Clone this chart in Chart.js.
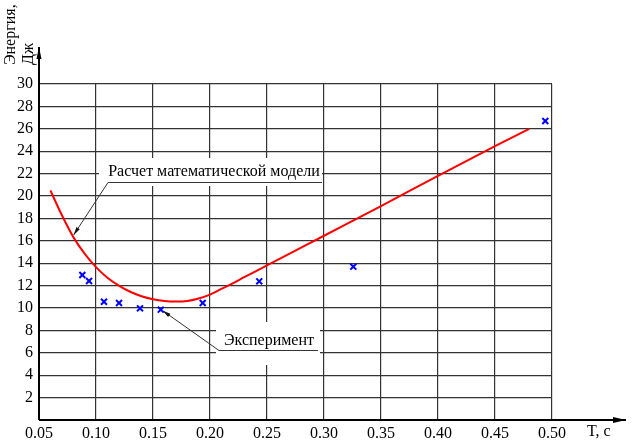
<!DOCTYPE html>
<html>
<head>
<meta charset="utf-8">
<script src="https://cdn.jsdelivr.net/npm/chart.js@4/dist/chart.umd.min.js"></script>
<style>
html,body{margin:0;padding:0;background:#fff;}
#wrap{width:633px;height:442px;position:relative;}
</style>
</head>
<body>
<div id="wrap"><canvas id="c" width="633" height="442"></canvas></div>
<script>
// ---- data ----
const tCalc = [0.060,0.070,0.080,0.090,0.100,0.110,0.120,0.130,0.140,0.150,0.160,0.170,0.180,0.190,0.200,0.210,0.220,0.230,0.240,0.250,0.300,0.350,0.400,0.450,0.480];
const eCalc = [20.5,18.3,16.35,14.85,13.65,12.7,12.0,11.45,11.05,10.78,10.62,10.57,10.62,10.85,11.2,11.7,12.2,12.75,13.28,13.8,16.45,19.1,21.8,24.45,26.0];
const tExp = [0.0880,0.0939,0.1070,0.1202,0.1386,0.1568,0.1936,0.2432,0.3257,0.4941];
const eExp = [12.95,12.41,10.56,10.45,9.97,9.85,10.45,12.38,13.69,26.7];
const xTicks = [0.05,0.10,0.15,0.20,0.25,0.30,0.35,0.40,0.45,0.50];
const yTicks = [2,4,6,8,10,12,14,16,18,20,22,24,26,28,30];
const yTitle1 = 'Энергия,';
const yTitle2 = 'Дж';
const xTitle = 'T, c';
const labelCalc = 'Расчет математической модели';
const labelExp = 'Эксперимент';

const FONT = 'Liberation Serif, Times New Roman, serif';

function arrowLine(ctx, x1, y1, x2, y2, len, half){
  ctx.beginPath(); ctx.moveTo(x1,y1); ctx.lineTo(x2,y2); ctx.stroke();
  const a = Math.atan2(y2-y1, x2-x1);
  ctx.beginPath();
  ctx.moveTo(x2,y2);
  ctx.lineTo(x2 - len*Math.cos(a) + half*Math.sin(a), y2 - len*Math.sin(a) - half*Math.cos(a));
  ctx.lineTo(x2 - len*Math.cos(a) - half*Math.sin(a), y2 - len*Math.sin(a) + half*Math.cos(a));
  ctx.closePath(); ctx.fill();
}

const deco = {
  id: 'deco',
  beforeDatasetsDraw(chart){
    const ctx = chart.ctx, xs = chart.scales.x, ys = chart.scales.y;
    const X = v => xs.getPixelForValue(v), Y = v => ys.getPixelForValue(v);
    ctx.save();
    ctx.fillStyle = '#fff';
    ctx.fillRect(99, 158, 223, 28);
    ctx.fillRect(216, 322, 104, 43);
    ctx.fillStyle = '#000';
    ctx.font = '16px ' + FONT;
    ctx.textBaseline = 'middle';
    ctx.textAlign = 'center';
    ctx.fillText(labelCalc, 214, 172);
    ctx.fillText(labelExp, 269, 341);
    ctx.strokeStyle = '#333'; ctx.fillStyle = '#111'; ctx.lineWidth = 1;
    ctx.beginPath(); ctx.moveTo(108,182.5); ctx.lineTo(322,182.5); ctx.stroke();
    arrowLine(ctx, 108, 182.5, X(0.0800)+0.5, Y(16.35)-2, 8, 2);
    ctx.beginPath(); ctx.moveTo(219,350.5); ctx.lineTo(318,350.5); ctx.stroke();
    arrowLine(ctx, 219, 350.5, X(0.1568)+2, Y(9.85)+1, 8, 2);
    ctx.restore();
  },
  afterDraw(chart){
    const ctx = chart.ctx, a = chart.chartArea;
    ctx.save();
    ctx.strokeStyle = '#000'; ctx.fillStyle = '#000'; ctx.lineWidth = 2;
    arrowLine(ctx, a.left, a.bottom, 626, a.bottom, 13, 3);
    arrowLine(ctx, a.left, a.bottom, a.left, 47, 12, 2.5);
    ctx.font = '16px ' + FONT;
    ctx.textBaseline = 'middle';
    ctx.textAlign = 'left';
    ctx.fillText(xTitle, 587, 432);
    ctx.save();
    ctx.translate(11, 65); ctx.rotate(-Math.PI/2);
    ctx.fillText(yTitle1, 0, 0);
    ctx.restore();
    ctx.save();
    ctx.translate(29, 65); ctx.rotate(-Math.PI/2);
    ctx.fillText(yTitle2, 0, 0);
    ctx.restore();
    ctx.restore();
  }
};

new Chart(document.getElementById('c'), {
  type: 'scatter',
  data: {
    datasets: [
      {
        label: 'calc',
        data: tCalc.map((t,i)=>({x:t, y:eCalc[i]})),
        showLine: true,
        borderColor: '#ff0000',
        borderWidth: 2,
        pointRadius: 0,
        cubicInterpolationMode: 'monotone',
        clip: false,
        order: 2
      },
      {
        label: 'exp',
        data: tExp.map((t,i)=>({x:t, y:eExp[i]})),
        showLine: false,
        pointStyle: 'crossRot',
        pointRadius: 4.2,
        borderColor: '#0000ff',
        borderWidth: 2,
        clip: false,
        order: 1
      }
    ]
  },
  options: {
    responsive: false,
    animation: false,
    devicePixelRatio: 1,
    layout: { padding: { top: 84, right: 81, left: 0, bottom: 0 } },
    plugins: { legend: { display: false }, tooltip: { enabled: false } },
    scales: {
      x: {
        type: 'linear', min: 0.05, max: 0.50,
        afterBuildTicks(s){ s.ticks = xTicks.map(v=>({value:v})); },
        afterFit(s){ s.height = 22; },
        grid: { color: '#333', lineWidth: 1.2, drawTicks: false },
        border: { display: false },
        ticks: { color: '#000', padding: 4, maxRotation: 0, autoSkip: false,
          font: { family: FONT, size: 16 },
          callback: v => v.toFixed(2) }
      },
      y: {
        type: 'linear', min: 0, max: 30,
        afterBuildTicks(s){ s.ticks = [0].concat(yTicks).map(v=>({value:v})); },
        afterFit(s){ s.width = 39; },
        grid: { color: '#333', lineWidth: 1.2, drawTicks: false },
        border: { display: false },
        ticks: { color: '#000', padding: 6, autoSkip: false,
          font: { family: FONT, size: 16 },
          callback: v => v === 0 ? '' : String(v) }
      }
    }
  },
  plugins: [deco]
});
</script>
</body>
</html>
